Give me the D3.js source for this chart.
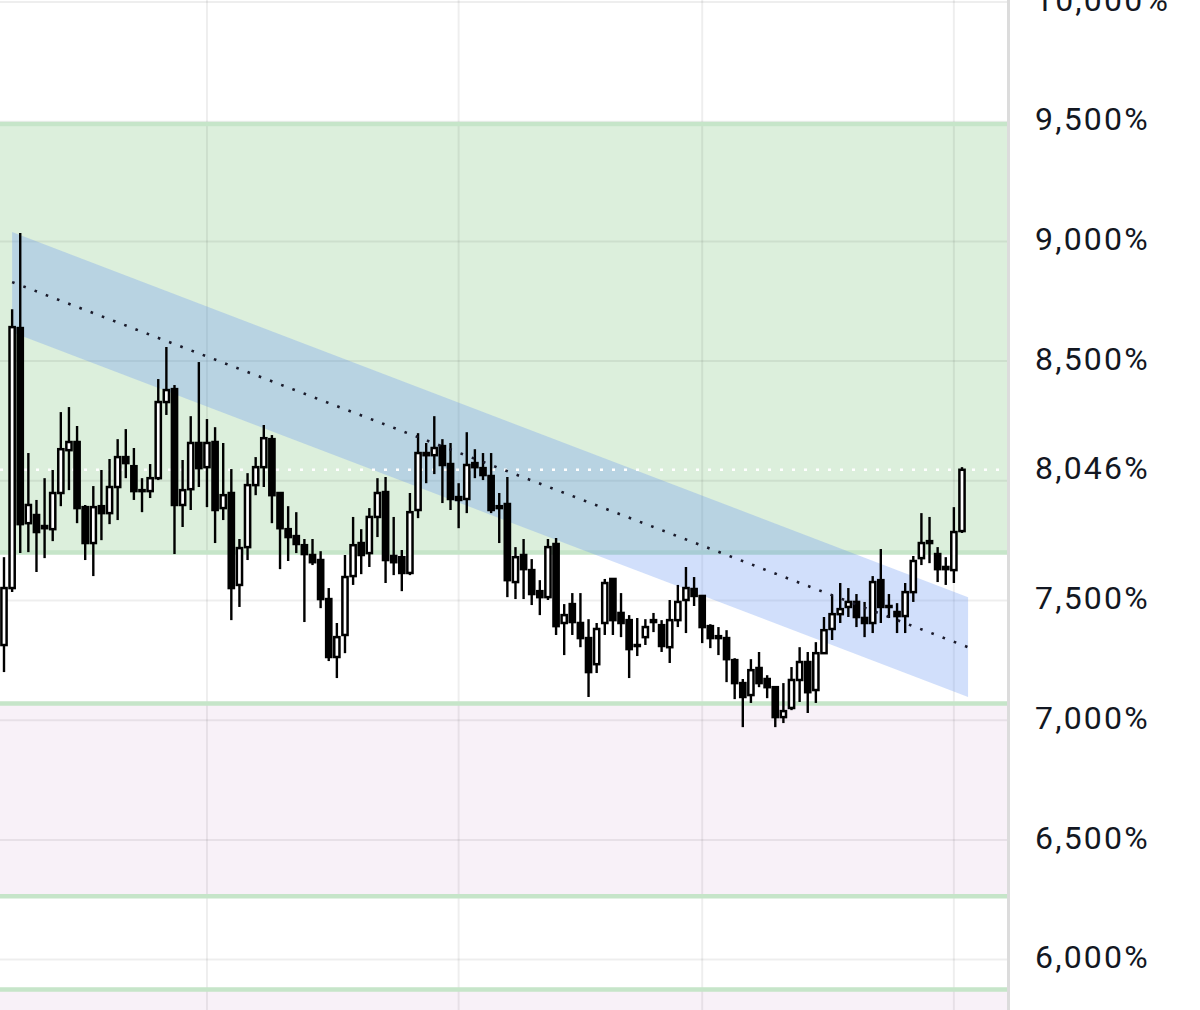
<!DOCTYPE html>
<html>
<head>
<meta charset="utf-8">
<script src="https://cdn.jsdelivr.net/npm/d3@7"></script>
<style>
  html, body { margin: 0; padding: 0; background: #fff; }
  svg { display: block; }
</style>
</head>
<body>
<svg id="chart" width="1200" height="1010"></svg>
<script>
// ---- data (values in %) ----
const opens  = [7314,7552,8638,7823,7857,7802,7798,7949,8128,8162,7890,7740,7894,7865,7974,8099,8061,7961,7957,8011,8329,8383,7899,7965,8158,8057,8162,7886,7949,7565,7723,7982,8057,8174,7949,7798,7769,7731,7690,7669,7506,7264,7356,7602,7740,7698,7849,7953,7686,7681,7615,7878,8107,8107,8145,8070,7932,7924,8074,8053,8020,7886,7903,7577,7690,7627,7539,7514,7736,7406,7485,7406,7343,7234,7406,7590,7448,7418,7314,7347,7418,7397,7305,7418,7502,7548,7519,7393,7351,7343,7251,7155,7105,7218,7172,7138,7013,7051,7168,7243,7126,7280,7381,7443,7473,7494,7427,7406,7585,7477,7452,7435,7535,7677,7748,7694,7640,7627,7790];
const highs  = [7681,8717,9035,8116,7920,8011,8045,8287,8308,8229,7899,7978,8045,8091,8174,8216,8137,8011,8070,8425,8559,8400,8087,8270,8496,8258,8224,8158,8049,7757,8032,8099,8233,8191,7949,7894,7869,7757,7757,7706,7552,7406,7690,7849,7798,7886,8011,8016,7849,7711,7949,8199,8158,8270,8174,8158,7990,8203,8132,8116,8116,7949,8016,7723,7757,7673,7585,7757,7761,7485,7531,7531,7422,7406,7590,7594,7531,7439,7427,7422,7448,7418,7502,7565,7640,7598,7523,7401,7389,7376,7259,7172,7255,7285,7188,7138,7155,7222,7305,7285,7326,7431,7523,7573,7552,7527,7494,7602,7715,7527,7489,7573,7686,7865,7849,7723,7681,7890,8057];
const lows   = [7201,7535,7698,7702,7619,7677,7748,7894,7961,7823,7669,7602,7752,7819,7836,8011,7920,7869,7928,8003,8275,7694,7807,7878,7974,7890,7740,7836,7418,7473,7669,7940,7974,7823,7631,7665,7698,7410,7648,7468,7247,7176,7280,7565,7610,7640,7765,7573,7606,7539,7606,7844,7990,8028,7907,7878,7802,7865,8011,8003,7865,7740,7514,7506,7506,7481,7439,7502,7356,7272,7356,7305,7097,7197,7356,7356,7347,7176,7268,7314,7368,7285,7239,7389,7364,7477,7322,7301,7272,7159,7088,6971,7072,7138,7092,6971,6988,7042,7076,7030,7072,7280,7335,7406,7431,7389,7347,7364,7406,7427,7364,7364,7494,7648,7656,7577,7565,7573,7782];
const closes = [7552,8642,7819,7899,7786,7811,7949,8132,8162,7886,7740,7890,7865,7974,8099,8074,7957,7957,8011,8329,8379,7899,7961,8158,8053,8158,7878,7940,7552,7719,7982,8057,8178,7940,7802,7765,7736,7694,7660,7506,7264,7347,7598,7731,7690,7849,7949,7669,7660,7615,7869,8116,8116,8137,8066,7924,7920,8066,8057,8024,7878,7894,7585,7681,7631,7527,7514,7723,7393,7439,7410,7343,7201,7381,7573,7418,7406,7297,7310,7389,7410,7310,7418,7494,7552,7519,7389,7343,7343,7255,7155,7097,7209,7155,7138,7013,7038,7168,7243,7117,7280,7376,7443,7464,7494,7431,7406,7577,7473,7473,7435,7535,7665,7740,7740,7631,7631,7786,8046];

const lastPrice = 8046;
const tickValues = [10000, 9500, 9000, 8500, 8046, 7500, 7000, 6500, 6000];
const gridValues = [10000, 9500, 9000, 8500, 8000, 7500, 7000, 6500, 6000];
const gridIndexes = [25, 56, 86, 117];           // vertical grid lines (bar index)
const greenZone = [7700, 9490];                  // [bottom, top]
const pinkZones = [[6265, 7070], [5600, 5875]];
const zoneLines = [9490, 7700, 7070, 6265, 5875];
const channelIdx = [1, 118.75];                  // start / end bar index
const channelTop = [9039, 7514];
const channelBottom = [8621, 7097];
const channelMid = [8830, 7305];

// ---- layout ----
const W = 1200, H = 1010, plotRight = 1007;
const svg = d3.select("#chart");
const x = d3.scaleLinear().domain([0, opens.length - 1]).range([4, 962]);
const y = d3.scaleLinear().domain([6000, 10000]).range([959.6, 2]);

svg.append("rect").attr("width", W).attr("height", H).attr("fill", "#fff");

svg.append("defs").append("clipPath").attr("id", "plotclip")
  .append("rect").attr("x", 0).attr("y", 0).attr("width", plotRight).attr("height", H);

const plot = svg.append("g").attr("clip-path", "url(#plotclip)");

// zones
plot.append("rect")
  .attr("x", 0).attr("width", plotRight)
  .attr("y", y(greenZone[1])).attr("height", y(greenZone[0]) - y(greenZone[1]))
  .attr("fill", "#dcefdc");
plot.selectAll("rect.pink").data(pinkZones).join("rect").attr("class", "pink")
  .attr("x", 0).attr("width", plotRight)
  .attr("y", d => y(d[1])).attr("height", d => y(d[0]) - y(d[1]))
  .attr("fill", "#f8f1f8");

// grid
plot.selectAll("line.hgrid").data(gridValues).join("line").attr("class", "hgrid")
  .attr("x1", 0).attr("x2", plotRight).attr("y1", d => y(d)).attr("y2", d => y(d))
  .attr("stroke", "rgba(0,0,0,0.065)").attr("stroke-width", 2);
plot.selectAll("line.vgrid").data(gridIndexes).join("line").attr("class", "vgrid")
  .attr("x1", d => x(d)).attr("x2", d => x(d)).attr("y1", 0).attr("y2", H)
  .attr("stroke", "rgba(0,0,0,0.065)").attr("stroke-width", 2);

// zone border lines
plot.selectAll("line.zone").data(zoneLines).join("line").attr("class", "zone")
  .attr("x1", 0).attr("x2", plotRight).attr("y1", d => y(d)).attr("y2", d => y(d))
  .attr("stroke", "#c6e5c9").attr("stroke-width", 4.5);

// channel
const chPts = [
  [x(channelIdx[0]), y(channelTop[0])],
  [x(channelIdx[1]), y(channelTop[1])],
  [x(channelIdx[1]), y(channelBottom[1])],
  [x(channelIdx[0]), y(channelBottom[0])]
];
plot.append("path")
  .attr("d", d3.line()(chPts) + "Z")
  .attr("fill", "rgba(95,145,240,0.29)");

// last price dotted line
plot.append("line")
  .attr("x1", 0).attr("x2", plotRight).attr("y1", y(lastPrice)).attr("y2", y(lastPrice))
  .attr("stroke", "#fff").attr("stroke-width", 2.5).attr("stroke-dasharray", "3 9");

// candles
const idx = d3.range(opens.length);
const wickG = plot.append("g");
wickG.selectAll("line").data(idx).join("line")
  .attr("x1", i => x(i)).attr("x2", i => x(i))
  .attr("y1", i => y(highs[i])).attr("y2", i => y(lows[i]))
  .attr("stroke", "#000").attr("stroke-width", 2.4);
const bw = 5.2;
plot.append("g").selectAll("rect").data(idx).join("rect")
  .attr("x", i => x(i) - bw / 2)
  .attr("width", bw)
  .attr("y", i => y(Math.max(opens[i], closes[i])))
  .attr("height", i => Math.max(1, Math.abs(y(opens[i]) - y(closes[i]))))
  .attr("fill", i => closes[i] >= opens[i] ? "#fff" : "#000")
  .attr("stroke", "#000").attr("stroke-width", 2.5);

// channel mid dotted line
plot.append("line")
  .attr("x1", x(channelIdx[0])).attr("y1", y(channelMid[0]))
  .attr("x2", x(channelIdx[1])).attr("y2", y(channelMid[1]))
  .attr("stroke", "#1a1a2a").attr("stroke-width", 2.6)
  .attr("stroke-dasharray", "2.6 9.4");

// right border
svg.append("line").attr("x1", plotRight + 1.5).attr("x2", plotRight + 1.5)
  .attr("y1", 0).attr("y2", H).attr("stroke", "#dcdcdc").attr("stroke-width", 3);

// axis
const fmt = d => d3.format(",")(d) + "%";
const axis = d3.axisRight(y).tickValues(tickValues).tickFormat(fmt).tickSize(0).tickPadding(27);
const ag = svg.append("g").attr("transform", `translate(${plotRight + 1},0)`).call(axis);
ag.select(".domain").remove();
ag.selectAll("text")
  .attr("font-family", "Roboto, 'Noto Sans', sans-serif")
  .attr("font-size", 32)
  .attr("letter-spacing", "2.2px")
  .attr("fill", "#131722")
  .attr("dy", "0.32em")
  .attr("transform", "translate(0,-2)");
</script>
</body>
</html>
